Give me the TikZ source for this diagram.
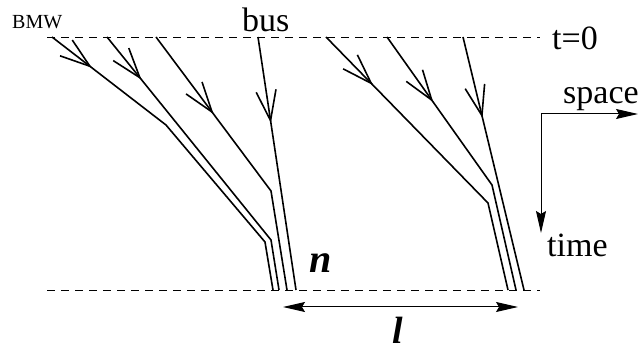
\documentclass[tikz,border=0pt]{standalone}
\usepackage{fontspec}
\setmainfont{Liberation Serif}
\usetikzlibrary{arrows.meta, decorations.markings}

\begin{document}
\begin{tikzpicture}[x=1pt, y=-1pt,
  road/.style={line width=1.6pt, line join=miter},
  carflow/.style={decoration={markings, mark=at position #1 with {\arrow[line width=1.6pt]{Straight Barb[length=30pt, width=20pt]}}}, postaction={decorate}},
  timeline/.style={line width=0.8pt, dash pattern=on 8pt off 6pt},
  axis/.style={-{Stealth[length=22pt, width=10pt, inset=3pt]}, line width=1pt},
  gap/.style={{Stealth[length=22pt, width=10pt, inset=3pt]}-{Stealth[length=22pt, width=10pt, inset=3pt]}, line width=1pt},
  label/.style={inner sep=0pt, anchor=base west, font=\fontsize{34}{34}\selectfont}
]
\useasboundingbox (0,0) rectangle (642,352);

% time lines
\coordinate (t0left) at (47,37);
\coordinate (t0right) at (540,37);
\coordinate (tnleft) at (47,290);
\coordinate (tnright) at (540,290);
\draw[timeline] (t0left) -- (t0right);
\draw[timeline] (tnleft) -- (tnright);

% left platoon
\coordinate (bmw) at (52,37);
\coordinate (bmwk1) at (166,125);
\coordinate (bmwk2) at (265,242);
\coordinate (bmwend) at (273,290);
\coordinate (cara) at (107,37);
\coordinate (carak) at (271,240);
\coordinate (caraend) at (279,290);
\coordinate (carb) at (156,37);
\coordinate (carbk) at (271,191);
\coordinate (carbend) at (287,290);
\coordinate (bus) at (258,37);
\coordinate (busend) at (296,290);

\draw[road] (bmw) -- (bmwk1) -- (bmwk2) -- (bmwend);
\path[carflow=0.35] (bmw) -- (bmwk1);
\draw[road] (cara) -- (carak) -- (caraend);
\path[carflow=0.21] (cara) -- (carak);
\draw[road] (carb) -- (carbk) -- (carbend);
\path[carflow=0.5] (carb) -- (carbk);
\draw[road] (bus) -- (busend);
\path[carflow=0.34] (bus) -- (busend);

% right platoon
\coordinate (carc) at (326,37);
\coordinate (carck) at (488,203);
\coordinate (carcend) at (508,290);
\coordinate (card) at (387,37);
\coordinate (cardk) at (492,185);
\coordinate (cardend) at (516,290);
\coordinate (care) at (463,37);
\coordinate (careend) at (524,290);

\draw[road] (carc) -- (carck) -- (carcend);
\path[carflow=0.29] (carc) -- (carck);
\draw[road] (card) -- (cardk) -- (cardend);
\path[carflow=0.44] (card) -- (cardk);
\draw[road] (care) -- (careend);
\path[carflow=0.32] (care) -- (careend);

% axes
\coordinate (origin) at (541,114);
\coordinate (spaceend) at (638,114);
\coordinate (timeend) at (541,233);
\draw[axis] (origin) -- (spaceend);
\draw[axis] (origin) -- (timeend);

% spacing
\coordinate (gapleft) at (283,307);
\coordinate (gapright) at (518,307);
\draw[gap] (gapleft) -- (gapright);

% labels
\node[label, font=\fontsize{20}{20}\selectfont] (bmwlabel) at (12,29) {BMW};
\node[label] (buslabel) at (242,32) {bus};
\node[label] (t0label) at (552,50) {t=0};
\node[label] (spacelabel) at (563,104) {space};
\node[label] (timelabel) at (547,257) {time};
\node[label, font=\fontsize{40}{40}\selectfont\bfseries\itshape] (nlabel) at (309,273) {n};
\node[label, font=\fontsize{38}{38}\selectfont\bfseries\itshape] (llabel) at (392,343) {l};
\end{tikzpicture}
\end{document}
